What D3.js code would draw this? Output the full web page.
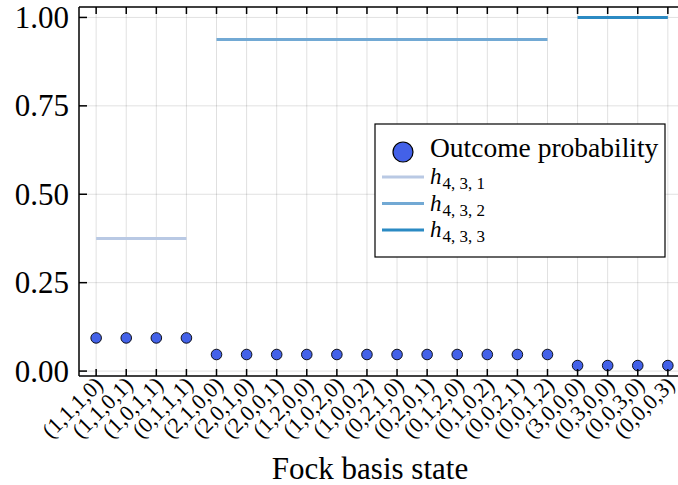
<!DOCTYPE html>
<html>
<head>
<meta charset="utf-8">
<script src="https://cdn.jsdelivr.net/npm/d3@7"></script>
<style>
  body { margin: 0; background: #fff; }
  svg text { font-family: "Liberation Serif", "DejaVu Serif", serif; fill: #000; }
</style>
</head>
<body>
<div id="chart"></div>
<script>
// Fock basis states and outcome probabilities
const states = ["(1,1,1,0)", "(1,1,0,1)", "(1,0,1,1)", "(0,1,1,1)",
  "(2,1,0,0)", "(2,0,1,0)", "(2,0,0,1)", "(1,2,0,0)", "(1,0,2,0)", "(1,0,0,2)",
  "(0,2,1,0)", "(0,2,0,1)", "(0,1,2,0)", "(0,1,0,2)", "(0,0,2,1)", "(0,0,1,2)",
  "(3,0,0,0)", "(0,3,0,0)", "(0,0,3,0)", "(0,0,0,3)"]
const probs = [0.09375, 0.09375, 0.09375, 0.09375,
  0.046875, 0.046875, 0.046875, 0.046875, 0.046875, 0.046875,
  0.046875, 0.046875, 0.046875, 0.046875, 0.046875, 0.046875,
  0.015625, 0.015625, 0.015625, 0.015625]

// cumulative levels h_{4,3,k}: [start index, end index, value]
const levelNames = ["4, 3, 1", "4, 3, 2", "4, 3, 3"]
const levelRanges = [[1, 4], [5, 16], [17, 20]]
const levelValues = [0.375, 0.9375, 1.0]
const levelColors = ["#b9c9e4", "#72a9d4", "#2b8ac3"]

const yTicks = [0, 0.25, 0.5, 0.75, 1.0]

const W = 678, H = 485
const margin = {top: 7, left: 79, bottom: 109}
const plotRight = 685

const svg = d3.select("#chart").append("svg")
    .attr("width", W)
    .attr("height", H)

const x = d3.scaleLinear()
    .domain([0.43, 20.57])
    .range([margin.left, plotRight])

const y = d3.scaleLinear()
    .domain([-0.0139, 1.0295])
    .range([H - margin.bottom, margin.top])

const xIdx = d3.range(1, states.length + 1)
const bottom = H - margin.bottom

// grid
svg.append("g").selectAll("line.vgrid")
    .data(xIdx)
    .enter().append("line")
        .attr("x1", d => x(d)).attr("x2", d => x(d))
        .attr("y1", margin.top).attr("y2", bottom)
        .attr("stroke", "#000").attr("stroke-opacity", 0.12).attr("stroke-width", 1)

svg.append("g").selectAll("line.hgrid")
    .data(yTicks)
    .enter().append("line")
        .attr("x1", margin.left).attr("x2", plotRight)
        .attr("y1", d => y(d)).attr("y2", d => y(d))
        .attr("stroke", "#000").attr("stroke-opacity", 0.12).attr("stroke-width", 1)

// level lines
svg.append("g").selectAll("line.level")
    .data(levelValues)
    .enter().append("line")
        .attr("x1", (d, i) => x(levelRanges[i][0]))
        .attr("x2", (d, i) => x(levelRanges[i][1]))
        .attr("y1", d => y(d)).attr("y2", d => y(d))
        .attr("stroke", (d, i) => levelColors[i])
        .attr("stroke-width", 3)

// points
svg.append("g").selectAll("circle")
    .data(probs)
    .enter().append("circle")
        .attr("cx", (d, i) => x(i + 1))
        .attr("cy", d => y(d))
        .attr("r", 5.3)
        .attr("fill", "#4361e8")
        .attr("stroke", "#000")
        .attr("stroke-width", 0.9)

// frame and ticks
const frame = svg.append("g").attr("stroke", "#000").attr("stroke-width", 1.5)
frame.append("line").attr("x1", margin.left).attr("x2", plotRight).attr("y1", bottom).attr("y2", bottom)
frame.append("line").attr("x1", margin.left).attr("x2", plotRight).attr("y1", margin.top).attr("y2", margin.top)
frame.append("line").attr("x1", margin.left).attr("x2", margin.left).attr("y1", margin.top).attr("y2", bottom)

frame.selectAll("line.xt")
    .data(xIdx)
    .enter().append("line")
        .attr("x1", d => x(d)).attr("x2", d => x(d))
        .attr("y1", bottom).attr("y2", bottom - 7)
frame.selectAll("line.xtt")
    .data(xIdx)
    .enter().append("line")
        .attr("x1", d => x(d)).attr("x2", d => x(d))
        .attr("y1", margin.top).attr("y2", margin.top + 7)
frame.selectAll("line.yt")
    .data(yTicks)
    .enter().append("line")
        .attr("x1", margin.left).attr("x2", margin.left + 8)
        .attr("y1", d => y(d)).attr("y2", d => y(d))

// y tick labels
svg.append("g").selectAll("text")
    .data(yTicks)
    .enter().append("text")
        .attr("x", margin.left - 10)
        .attr("y", d => y(d))
        .attr("dy", "0.34em")
        .attr("text-anchor", "end")
        .attr("font-size", "31px")
        .text(d => d3.format(".2f")(d))

// x tick labels
svg.append("g").selectAll("text")
    .data(states)
    .enter().append("text")
        .attr("transform", (d, i) => `translate(${x(i + 1) + 8}, ${bottom + 10})rotate(-45)`)
        .attr("text-anchor", "end")
        .attr("font-size", "22px")
        .text(d => d)

// x axis label
svg.append("text")
    .attr("x", 370)
    .attr("y", 479)
    .attr("text-anchor", "middle")
    .attr("font-size", "31px")
    .text("Fock basis state")

// legend
const lg = svg.append("g").attr("transform", "translate(375, 124)")
lg.append("rect")
    .attr("width", 290).attr("height", 133)
    .attr("fill", "#fff").attr("stroke", "#000").attr("stroke-width", 1.2)
lg.append("circle")
    .attr("cx", 28).attr("cy", 28).attr("r", 10)
    .attr("fill", "#4361e8").attr("stroke", "#000").attr("stroke-width", 1.2)
lg.append("text")
    .attr("x", 55).attr("y", 33)
    .attr("font-size", "27.5px")
    .text("Outcome probability")

levelNames.forEach((name, i) => {
    const cy = 53 + i * 26.5
    lg.append("line")
        .attr("x1", 7).attr("x2", 49)
        .attr("y1", cy).attr("y2", cy)
        .attr("stroke", levelColors[i]).attr("stroke-width", 3)
    const t = lg.append("text")
        .attr("x", 55).attr("y", cy + 7)
        .attr("font-size", "23px")
    t.append("tspan").attr("font-style", "italic").text("h")
    t.append("tspan").attr("font-size", "17px").attr("dx", 1).attr("dy", 5).text(name)
})
</script>
</body>
</html>
